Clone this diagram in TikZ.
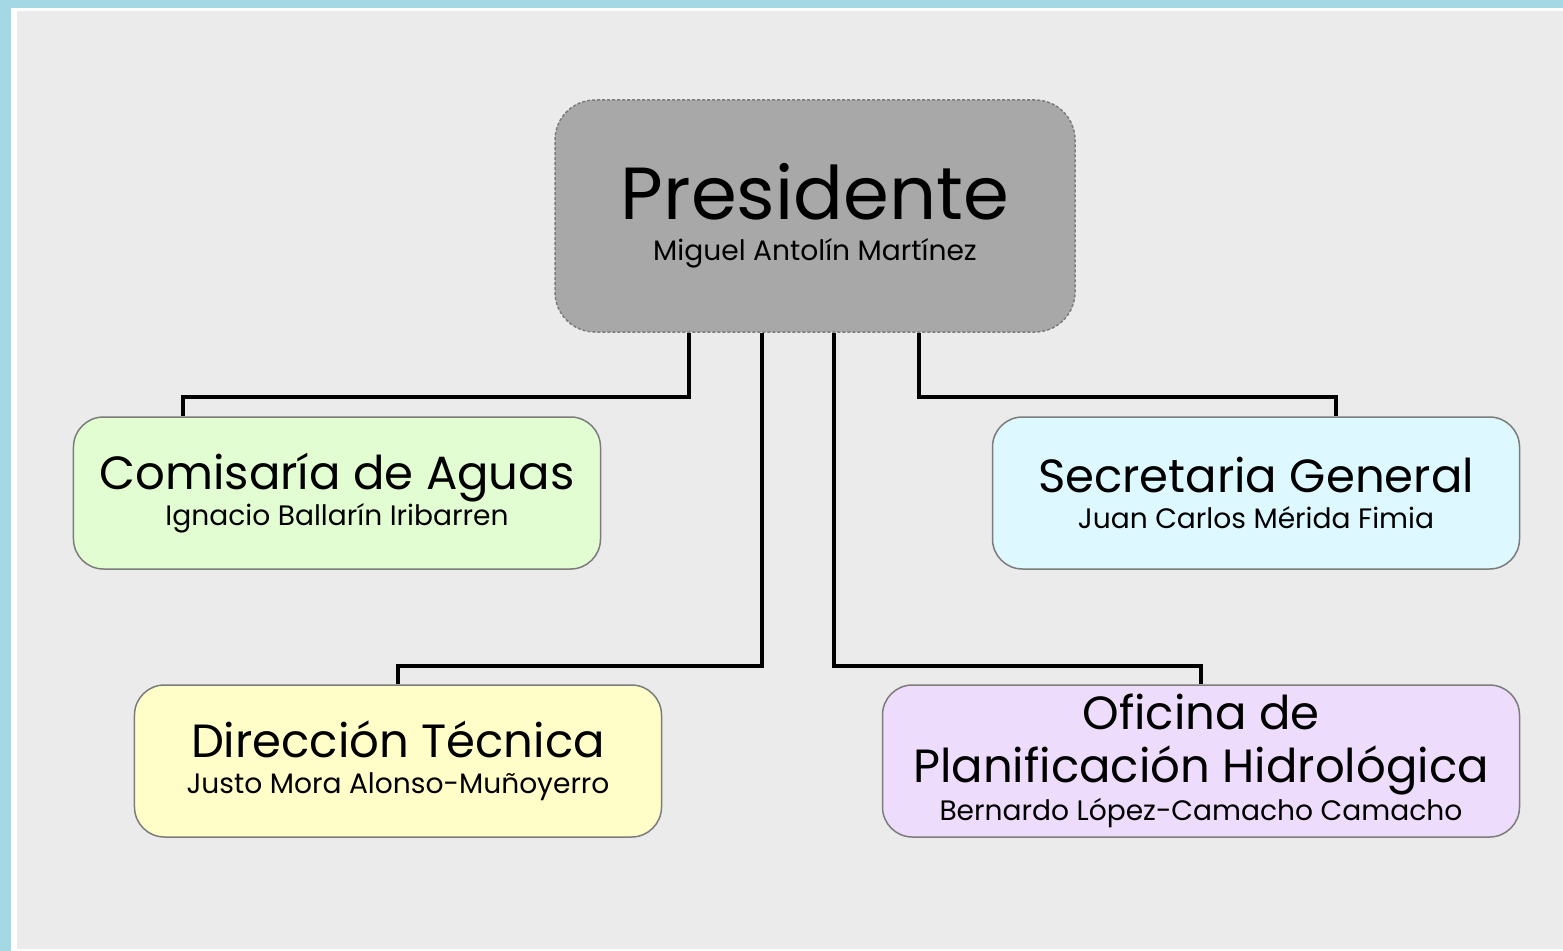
\documentclass[tikz,border=0pt]{standalone}
\usepackage{fontspec}
\setmainfont{Poppins}
\usepackage[]{xcolor}
\usetikzlibrary{positioning}

\definecolor{seablue}{HTML}{A4D8E4}
\definecolor{sheetgrey}{HTML}{EBEBEB}
\definecolor{headgrey}{HTML}{A8A8A8}
\definecolor{edgegrey}{HTML}{7C7C7C}
\definecolor{greenfill}{HTML}{E3FDD3}
\definecolor{cyanfill}{HTML}{DDF8FE}
\definecolor{yellowfill}{HTML}{FFFEC8}
\definecolor{lilacfill}{HTML}{EEDCFC}

\newcommand{\headtitle}{\fontsize{42}{44}\selectfont}
\newcommand{\unittitle}{\fontsize{26.5}{30}\selectfont}
\newcommand{\unitname}{\fontsize{16}{20.5}\selectfont}

\begin{document}
\begin{tikzpicture}[
            x=0.2mm, y=-0.2mm,
            unit/.style={rectangle, draw=edgegrey, line width=0.3mm, rounded corners=6mm, minimum width=105.4mm, minimum height=30.4mm, inner sep=0pt, align=center, font=\unitname},
            head/.style={unit, fill=headgrey, dash pattern=on 0.6mm off 0.4mm, rounded corners=8mm, minimum width=104mm, minimum height=46.4mm},
            link/.style={line width=0.8mm, black}
        ]
            % page
            \fill[seablue] (0,0) rectangle (1563,951);
            \fill[white] (11,8) rectangle (1563,951);
            \fill[sheetgrey] (17,11) rectangle (1563,949);
            \useasboundingbox (0,0) rectangle (1563,951);

            \node[head] (pres) at (815,216) {{\headtitle Presidente}\\[3pt] Miguel Antolín Martínez};
            \node[unit, fill=greenfill] (com) at (337,493) {{\unittitle Comisaría de Aguas}\\ Ignacio Ballarín Iribarren};
            \node[unit, fill=cyanfill] (sec) at (1256,493) {{\unittitle Secretaria General}\\ Juan Carlos Mérida Fimia};
            \node[unit, fill=yellowfill] (dir) at (398,761) {{\unittitle Dirección Técnica}\\ Justo Mora Alonso-Muñoyerro};
            \node[unit, fill=lilacfill, minimum width=127.4mm] (ofi) at (1201,761) {{\unittitle Oficina de}\\[8pt] {\unittitle Planificación Hidrológica}\\[1pt] Bernardo López-Camacho Camacho};

            \coordinate (k1) at (183,397);
            \coordinate (k2) at (398,666);
            \coordinate (k3) at (1201,666);
            \coordinate (k4) at (1336,397);

            \draw[link] (pres.south -| 689,0) |- (k1) -- (com.north -| k1);
            \draw[link] (pres.south -| 762,0) |- (k2) -- (dir.north -| k2);
            \draw[link] (pres.south -| 834,0) |- (k3) -- (ofi.north -| k3);
            \draw[link] (pres.south -| 919,0) |- (k4) -- (sec.north -| k4);
        \end{tikzpicture}
\end{document}
